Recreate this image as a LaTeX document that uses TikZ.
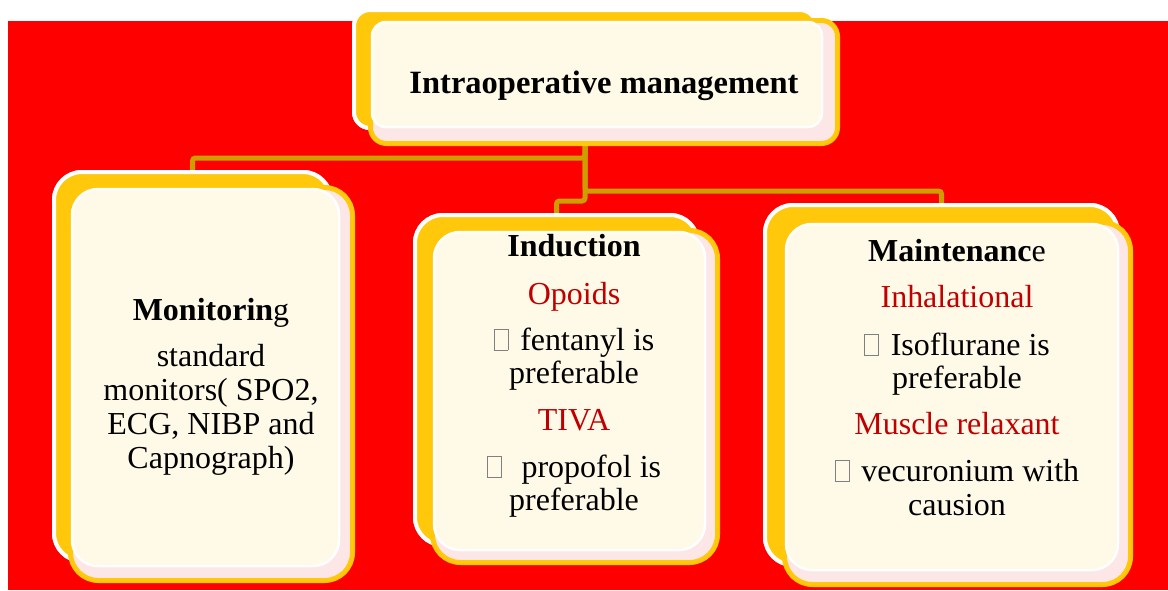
\documentclass[tikz,border=0pt]{standalone}
\usepackage{fontspec}
\setmainfont{Liberation Serif}
\usetikzlibrary{positioning}
\definecolor{cardyellow}{RGB}{255,200,10}
\definecolor{cardcream}{RGB}{255,249,232}
\definecolor{cardpink}{RGB}{253,230,230}
\definecolor{linkgold}{RGB}{204,158,0}
\definecolor{headred}{RGB}{192,0,0}
\newcommand{\nobullet}{{\color{gray}\fboxsep0pt\fboxrule0.7pt\fbox{\rule{0pt}{0.64em}\hspace{0.42em}}}\hspace{0.12em}}
\tikzset{
  backcard/.style={draw=white, line width=4pt, fill=cardyellow, rounded corners=28pt, inner sep=0pt},
  frontcard/.style={draw=cardyellow, line width=5pt, fill=cardpink, rounded corners=28pt, inner sep=0pt},
  innercard/.style={draw=white, line width=2.5pt, fill=cardcream, rounded corners=26pt, inner sep=0pt},
  link/.style={draw=linkgold, line width=5pt, rounded corners=3pt},
  cardtext/.style={align=center, font=\fontsize{32}{33.8}\selectfont, inner sep=0pt, anchor=base}
}
\begin{document}
\begin{tikzpicture}[x=1pt,y=-1pt]
\useasboundingbox (0,0) rectangle (1168,590);
\fill[red] (8,21) rectangle (1168,590);

% back cards
\node[backcard, rounded corners=16pt, minimum width=462pt, minimum height=118pt] (titleback) at (585,69) {};
\node[backcard, minimum width=277pt, minimum height=389pt] (monback) at (192.5,366.5) {};
\node[backcard, minimum width=283pt, minimum height=330pt] (indback) at (556.5,380) {};
\node[backcard, minimum width=353pt, minimum height=360pt] (mainback) at (941.5,385) {};

% connectors
\draw[link] (titleback.south) -- ++(0,28) -| (monback.north);
\draw[link] (titleback.south) -- ++(0,61) -| (mainback.north);
\draw[link] (titleback.south) -- ++(0,71) -| (indback.north);

% redraw back cards over the connector ends
\node[backcard, rounded corners=16pt, minimum width=462pt, minimum height=118pt] at (titleback) {};
\node[backcard, minimum width=277pt, minimum height=389pt] at (monback) {};
\node[backcard, minimum width=283pt, minimum height=330pt] at (indback) {};
\node[backcard, minimum width=353pt, minimum height=360pt] at (mainback) {};

% front cards
\node[frontcard, rounded corners=16pt, minimum width=467pt, minimum height=123pt] (titlefront) at (604,82) {};
\node[innercard, rounded corners=14pt, minimum width=450pt, minimum height=105pt] (titleinner) at (597,74.5) {};
\node[frontcard, minimum width=282pt, minimum height=393pt] (monfront) at (211.5,384) {};
\node[innercard, minimum width=267pt, minimum height=377pt] (moninner) at (205.5,377.5) {};
\node[frontcard, minimum width=285pt, minimum height=332pt] (indfront) at (575,396.5) {};
\node[innercard, minimum width=271pt, minimum height=318pt] (indinner) at (569.5,391) {};
\node[frontcard, minimum width=346pt, minimum height=362pt] (mainfront) at (957.5,403.5) {};
\node[innercard, minimum width=332pt, minimum height=346pt] (maininner) at (952,397) {};

% texts (anchor=base sits on the last line)
\node[cardtext, font=\fontsize{32.5}{36}\selectfont\bfseries] (titletext) at (604,93) {Intraoperative management};
\node[cardtext] (montext) at (211,468) {\textbf{Monitorin}g\\[12.2pt]
  standard\\ monitors( SPO2,\\ ECG, NIBP and\\ Capnograph)};
\node[cardtext] (indtext) at (574,510) {\textbf{Induction}\\[14.2pt]
  \textcolor{headred}{Opoids}\\[12.2pt]
  \nobullet{} fentanyl is\\[-0.8pt] preferable\\[13.2pt]
  \textcolor{headred}{TIVA}\\[13.2pt]
  \nobullet{}\ \ propofol is\\[-0.8pt] preferable};
\node[cardtext] (maintext) at (957,515) {\textbf{Maintenanc}e\\[12.2pt]
  \textcolor{headred}{Inhalational}\\[14.2pt]
  \nobullet{} Isoflurane is\\[-0.8pt] preferable\\[12.2pt]
  \textcolor{headred}{Muscle relaxant}\\[13.2pt]
  \nobullet{} vecuronium with\\ causion};
\end{tikzpicture}
\end{document}
